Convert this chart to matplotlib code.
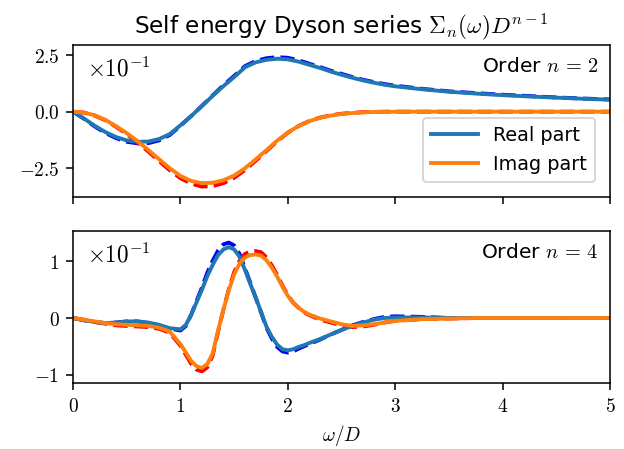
import numpy as np
import matplotlib
matplotlib.use("Agg")
import matplotlib.pyplot as plt
from matplotlib.ticker import FuncFormatter

plt.rcParams['mathtext.fontset'] = 'cm'
plt.rcParams['font.family'] = ['DejaVu Sans']

# ---- order n = 2 ----
x2 = [0.0, 0.1, 0.2, 0.3, 0.4, 0.5, 0.6, 0.7, 0.8, 0.9, 1.0, 1.1, 1.2, 1.3, 1.4,
      1.5, 1.6, 1.7, 1.8, 1.9, 2.0, 2.1, 2.2, 2.3, 2.4, 2.5, 2.6, 2.7, 2.8, 2.9,
      3.0, 3.25, 3.5, 3.75, 4.0, 4.25, 4.5, 4.75, 5.0]
re2 = [0.0, -0.030, -0.062, -0.090, -0.112, -0.127, -0.133, -0.132, -0.121, -0.099,
       -0.060, -0.019, 0.025, 0.070, 0.113, 0.153, 0.196, 0.218, 0.229, 0.234,
       0.231, 0.221, 0.207, 0.193, 0.177, 0.163, 0.150, 0.138, 0.128, 0.119,
       0.112, 0.099, 0.088, 0.080, 0.073, 0.067, 0.062, 0.057, 0.053]
im2 = [0.0, -0.004, -0.016, -0.036, -0.064, -0.095, -0.130, -0.169, -0.210, -0.250,
       -0.284, -0.306, -0.316, -0.314, -0.303, -0.282, -0.250, -0.211, -0.170, -0.128,
       -0.092, -0.063, -0.042, -0.027, -0.017, -0.010, -0.006, -0.003, -0.0015, -0.0008,
       -0.0004, 0.0, 0.0, 0.0, 0.0, 0.0, 0.0, 0.0, 0.0]
re2_ref = [0.0, -0.031, -0.065, -0.094, -0.117, -0.133, -0.140, -0.139, -0.127, -0.103,
           -0.062, -0.019, 0.026, 0.072, 0.117, 0.158, 0.201, 0.224, 0.236, 0.241,
           0.238, 0.227, 0.212, 0.197, 0.181, 0.167, 0.153, 0.141, 0.131, 0.122,
           0.115, 0.101, 0.090, 0.082, 0.075, 0.069, 0.063, 0.058, 0.054]
im2_ref = [0.0, -0.004, -0.017, -0.038, -0.067, -0.099, -0.136, -0.176, -0.218, -0.259,
           -0.294, -0.318, -0.331, -0.329, -0.316, -0.292, -0.258, -0.217, -0.174, -0.131,
           -0.093, -0.063, -0.041, -0.026, -0.016, -0.009, -0.005, -0.002, -0.001, 0.0,
           0.0, 0.0, 0.0, 0.0, 0.0, 0.0, 0.0, 0.0, 0.0]

# ---- order n = 4 ----
x4 = [0.0, 0.1, 0.2, 0.3, 0.4, 0.5, 0.6, 0.7, 0.8, 0.9, 1.0, 1.05, 1.1, 1.15, 1.2,
      1.25, 1.3, 1.35, 1.4, 1.45, 1.5, 1.55, 1.6, 1.65, 1.7, 1.75, 1.8, 1.85, 1.9,
      1.95, 2.0, 2.05, 2.1, 2.15, 2.2, 2.3, 2.4, 2.5, 2.6, 2.7, 2.8, 2.9, 3.0,
      3.25, 3.5, 3.75, 4.0, 4.5, 5.0]
re4 = [0.0, -0.004, -0.007, -0.009, -0.008, -0.006, -0.006, -0.008, -0.012, -0.018,
       -0.020, -0.012, 0.006, 0.028, 0.050, 0.074, 0.094, 0.111, 0.121, 0.125,
       0.121, 0.108, 0.085, 0.060, 0.036, 0.011, -0.015, -0.033, -0.047, -0.055,
       -0.057, -0.055, -0.051, -0.048, -0.044, -0.037, -0.029, -0.021, -0.014, -0.008,
       -0.003, 0.000, 0.001, 0.001, 0.0, 0.0, 0.0, 0.0, 0.0]
im4 = [0.0, -0.003, -0.006, -0.009, -0.011, -0.012, -0.013, -0.014, -0.017, -0.024,
       -0.046, -0.061, -0.076, -0.085, -0.088, -0.081, -0.062, -0.022, 0.015, 0.049,
       0.077, 0.096, 0.107, 0.111, 0.112, 0.110, 0.102, 0.089, 0.073, 0.055,
       0.039, 0.027, 0.018, 0.011, 0.006, -0.001, -0.006, -0.011, -0.014, -0.013,
       -0.011, -0.008, -0.005, -0.002, -0.001, 0.0, 0.0, 0.0, 0.0]
re4_ref = [0.0, -0.004, -0.007, -0.009, -0.008, -0.006, -0.006, -0.009, -0.013, -0.019,
           -0.022, -0.014, 0.006, 0.030, 0.054, 0.080, 0.101, 0.119, 0.130, 0.133,
           0.128, 0.113, 0.088, 0.062, 0.036, 0.010, -0.017, -0.036, -0.051, -0.059,
           -0.061, -0.059, -0.054, -0.050, -0.046, -0.038, -0.029, -0.021, -0.013, -0.007,
           -0.002, 0.002, 0.003, 0.002, 0.0, 0.0, 0.0, 0.0, 0.0]
im4_ref = [0.0, -0.003, -0.007, -0.010, -0.013, -0.014, -0.015, -0.016, -0.019, -0.026,
           -0.049, -0.065, -0.081, -0.091, -0.094, -0.087, -0.066, -0.024, 0.015, 0.051,
           0.081, 0.101, 0.113, 0.117, 0.118, 0.116, 0.107, 0.093, 0.076, 0.057,
           0.040, 0.027, 0.018, 0.010, 0.005, -0.003, -0.008, -0.013, -0.016, -0.015,
           -0.012, -0.008, -0.005, -0.002, -0.001, 0.0, 0.0, 0.0, 0.0]

fig, (ax1, ax2) = plt.subplots(2, 1, sharex=True, figsize=(625/139, 449/139))
fig.subplots_adjust(left=0.117, right=0.976, top=0.8998, bottom=0.147, hspace=0.224)

for ax, x, re, im, re_ref, im_ref in [(ax1, x2, re2, im2, re2_ref, im2_ref),
                                      (ax2, x4, re4, im4, re4_ref, im4_ref)]:
    ax.plot(x, re_ref, 'b--', lw=2)
    ax.plot(x, im_ref, 'r--', lw=2)
    ax.plot(x, re, color='C0', lw=2, label='Real part')
    ax.plot(x, im, color='C1', lw=2, label='Imag part')
    ax.text(0.025, 0.925, r'$\times10^{-1}$', transform=ax.transAxes,
            ha='left', va='top', fontsize=12)

ax1.set_ylim(-0.3768, 0.2946)
ax1.set_yticks([-0.25, 0.0, 0.25])
ax1.yaxis.set_major_formatter(FuncFormatter(lambda v, p: '$%.1f$' % (v * 10 + 0.0)))
ax1.text(0.978, 0.921, r'Order $n\,=\,2$', transform=ax1.transAxes,
         ha='right', va='top', fontsize=10.5)
ax1.legend(loc='lower right', borderaxespad=0.8, handlelength=2.4)
ax1.set_title(r'Self energy Dyson series $\Sigma_n(\omega)D^{n-1}$')

ax2.set_ylim(-0.1146, 0.1534)
ax2.set_yticks([-0.1, 0.0, 0.1])
ax2.yaxis.set_major_formatter(FuncFormatter(lambda v, p: '$%d$' % round(v * 10)))
ax2.text(0.978, 0.921, r'Order $n\,=\,4$', transform=ax2.transAxes,
         ha='right', va='top', fontsize=10.5)

ax2.set_xlim(0, 5)
ax2.set_xticks([0, 1, 2, 3, 4, 5])
ax2.xaxis.set_major_formatter(FuncFormatter(lambda v, p: '$%d$' % v))
ax2.set_xlabel(r'$\omega/D$')

fig.savefig('out.png', dpi=139)
